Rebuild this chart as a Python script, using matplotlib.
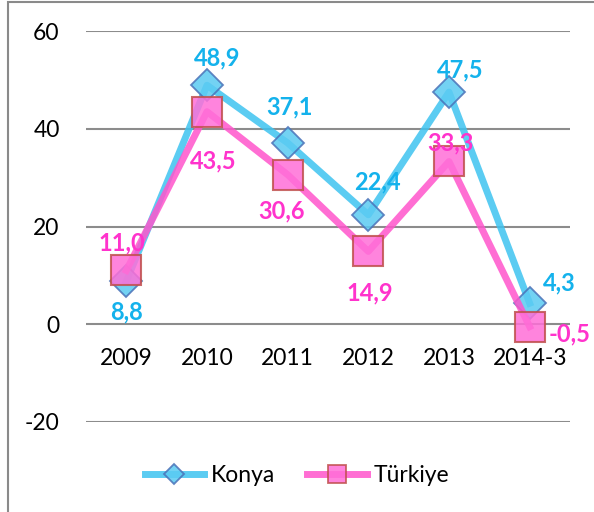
import matplotlib
matplotlib.use("Agg")
import matplotlib.pyplot as plt
from matplotlib.patches import Rectangle
from matplotlib.lines import Line2D

categories = ["2009", "2010", "2011", "2012", "2013", "2014-3"]
konya = [8.8, 48.9, 37.1, 22.4, 47.5, 4.3]
turkiye = [11.0, 43.5, 30.6, 14.9, 33.3, -0.5]
konya_labels = ["8,8", "48,9", "37,1", "22,4", "47,5", "4,3"]
turkiye_labels = ["11,0", "43,5", "30,6", "14,9", "33,3", "-0,5"]
yticks = [-20, 0, 20, 40, 60]

plt.rcParams['font.family'] = ['Lato', 'DejaVu Sans']

W, H = 594, 512
fig = plt.figure(figsize=(W / 100, H / 100), dpi=100)
fig.patch.set_facecolor("white")
ax = fig.add_axes([86 / W, 1 - 422 / H, (570 - 86) / W, (422 - 31) / H])

x = list(range(len(categories)))
k_col = "#3EC3F0"
t_col = "#FF55CC"
FS = 16.5
LFS = 17

ax.plot(x, konya, color=k_col, lw=5, alpha=0.85, marker="D", ms=16.5,
        mfc="#5BCBF2", mec="#4A72B8", mew=1.3, zorder=3, solid_joinstyle="round")
ax.plot(x, turkiye, color=t_col, lw=5, alpha=0.85, marker="s", ms=21.5,
        mfc="#FF6FD8", mec="#C0504D", mew=1.5, zorder=4, solid_joinstyle="round")

ax.set_xlim(-0.5, len(categories) - 0.5)
ax.set_ylim(-20, 60)
ax.set_yticks(yticks)
ax.set_yticklabels([str(v) for v in yticks], fontsize=FS)
ax.tick_params(axis="y", length=0, pad=19)
ax.set_xticks([])
for s in ax.spines.values():
    s.set_visible(False)
ax.grid(axis="y", color="#8C8C8C", lw=1.5)
ax.set_axisbelow(True)

for i, c in enumerate(categories):
    ax.text(i, -7, c, ha="center", va="center", fontsize=FS, color="black")

# data label offsets in pixels (dx, dy)
k_off = [(0, -31), (10, 27), (2, 36), (9, 33), (11, 22), (30, 20)]
t_off = [(-4, 28), (6, -49), (-6, -36), (1, -41), (1, 19), (40, -7)]
for i in x:
    dx, dy = k_off[i]
    ax.annotate(konya_labels[i], (i, konya[i]), xytext=(dx * 0.72, dy * 0.72),
                textcoords="offset points", ha="center", va="center",
                fontsize=LFS, fontweight="bold", color="#14B2EC", zorder=6)
    dx, dy = t_off[i]
    ax.annotate(turkiye_labels[i], (i, turkiye[i]), xytext=(dx * 0.72, dy * 0.72),
                textcoords="offset points", ha="center", va="center",
                fontsize=LFS, fontweight="bold", color="#FF33CC", zorder=6)

h1 = Line2D([], [], color=k_col, lw=5, alpha=0.85, marker="D", ms=10,
            mfc="#5BCBF2", mec="#4A72B8", mew=1.3)
h2 = Line2D([], [], color=t_col, lw=5, alpha=0.85, marker="s", ms=13,
            mfc="#FF6FD8", mec="#C0504D", mew=1.3)
fig.legend([h1, h2], ["Konya", "Türkiye"], loc="center",
           bbox_to_anchor=(0.5, 1 - 476 / H), ncol=2, frameon=False,
           fontsize=FS, handlelength=2.6, columnspacing=1.4, handletextpad=0.3)

fig.add_artist(Rectangle((8 / W, -0.05), 1.2, 1 - 2 / H + 0.05,
                         transform=fig.transFigure, fill=False,
                         edgecolor="#8A8A8A", lw=1.5))

fig.savefig("out.png", dpi=100)
